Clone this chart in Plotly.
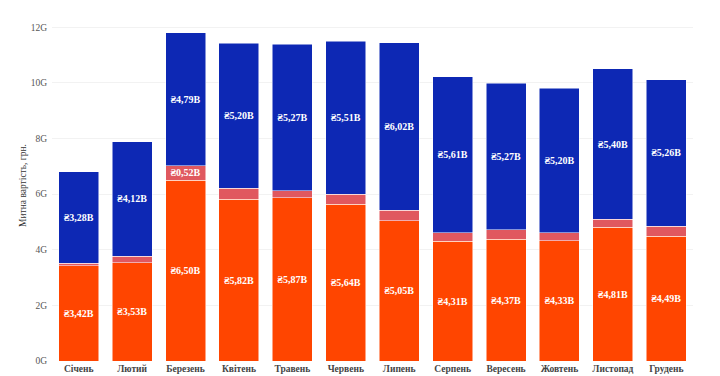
import plotly.graph_objects as go

months = ["Січень", "Лютий", "Березень", "Квітень", "Травень", "Червень",
          "Липень", "Серпень", "Вересень", "Жовтень", "Листопад", "Грудень"]
# billions of hryvnia
bottom_vals = [3.42, 3.53, 6.50, 5.82, 5.87, 5.64, 5.05, 4.31, 4.37, 4.33, 4.81, 4.49]
middle_vals = [0.10, 0.24, 0.52, 0.40, 0.25, 0.35, 0.37, 0.30, 0.35, 0.28, 0.29, 0.36]
top_vals = [3.28, 4.12, 4.79, 5.20, 5.27, 5.51, 6.02, 5.61, 5.27, 5.20, 5.40, 5.26]
y_tick_vals = [0, 2, 4, 6, 8, 10, 12]

FONT = "Liberation Serif, Times New Roman, serif"


def label(v, show=True):
    return ("<b>₴" + f"{v:.2f}".replace(".", ",") + "B</b>") if show else ""


series = [
    (bottom_vals, "#FF4500", [label(v) for v in bottom_vals]),
    (middle_vals, "#E0585F", [label(v, v >= 0.5) for v in middle_vals]),
    (top_vals, "#0D28B4", [label(v) for v in top_vals]),
]

fig = go.Figure()
for vals, color, texts in series:
    fig.add_trace(go.Bar(
        x=months,
        y=[v * 1e9 for v in vals],
        text=texts,
        textposition="inside",
        insidetextanchor="middle",
        textangle=0,
        textfont=dict(family=FONT, size=10, color="white"),
        insidetextfont=dict(family=FONT, size=10, color="white"),
        marker=dict(color=color, line=dict(color="white", width=0.5)),
        hoverinfo="skip",
        showlegend=False,
    ))

fig.update_layout(
    template="plotly_white",
    barmode="stack",
    bargap=0.25,
    width=720,
    height=376,
    margin=dict(l=52, r=27, t=10, b=15),
    font=dict(family=FONT, size=9, color="#444"),
    uniformtext=dict(minsize=9, mode="show"),
    plot_bgcolor="white",
    paper_bgcolor="white",
)
fig.update_xaxes(
    tickmode="array",
    tickvals=months,
    ticktext=[f"<b>{m}</b>" for m in months],
    tickfont=dict(family=FONT, size=9.5, color="#444"),
    showgrid=False,
    ticks="",
    automargin=False,
)
fig.update_yaxes(
    title=dict(text="Митна вартість, грн.", font=dict(family=FONT, size=9.5, color="#333"), standoff=2),
    range=[0, 12.62e9],
    tickvals=[v * 1e9 for v in y_tick_vals],
    ticktext=[f"{v}G" for v in y_tick_vals],
    tickfont=dict(family=FONT, size=9.5, color="#555"),
    ticklabelstandoff=4,
    gridcolor="#F2F2F2",
    zeroline=False,
    automargin=False,
)

fig.write_html("out.html", config={"displayModeBar": False},
               post_script="document.body.style.margin='0';")
